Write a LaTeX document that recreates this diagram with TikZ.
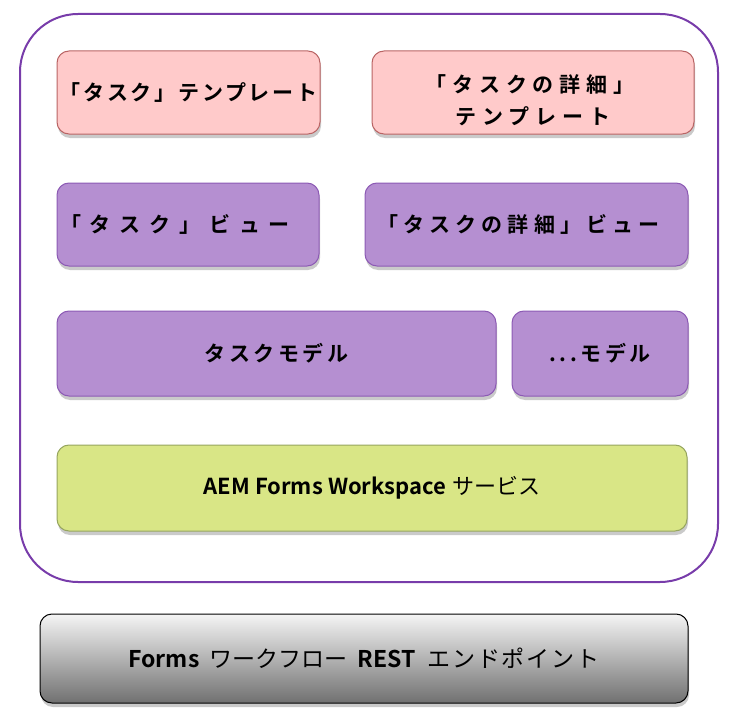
\documentclass[tikz,border=0pt]{standalone}
\usepackage{fontspec}
\setmainfont{Noto Sans CJK JP}[BoldFont=* Bold]
\newfontfamily\jpa{Noto Sans CJK JP}[BoldFont=* Bold,LetterSpace=13]
\newfontfamily\jpb{Noto Sans CJK JP}[BoldFont=* Bold,LetterSpace=28]
\newfontfamily\jpc{Noto Sans CJK JP}[BoldFont=* Bold,LetterSpace=24]
\newfontfamily\jpd{Noto Sans CJK JP}[BoldFont=* Bold,LetterSpace=42]
\newfontfamily\jpe{Noto Sans CJK JP}[BoldFont=* Bold,LetterSpace=17]
\newfontfamily\jpf{Noto Sans CJK JP}[LetterSpace=8]
\usetikzlibrary{shadows}
\definecolor{outerc}{RGB}{120,60,170}
\definecolor{pinkf}{RGB}{255,202,202}
\definecolor{pinkd}{RGB}{185,100,100}
\definecolor{purf}{RGB}{181,143,209}
\definecolor{purd}{RGB}{140,90,180}
\definecolor{grnf}{RGB}{217,230,134}
\definecolor{grnd}{RGB}{150,165,95}
\tikzset{
  box/.style={rounded corners=12pt, line width=1pt, inner sep=0pt, align=center,
    drop shadow={shadow xshift=1pt, shadow yshift=-4pt, opacity=0.35, fill=black!60}},
  pinkbox/.style={box, fill=pinkf, draw=pinkd},
  purbox/.style={box, fill=purf, draw=purd},
  grnbox/.style={box, fill=grnf, draw=grnd, font=\bfseries\fontsize{22}{26}\selectfont},
  restbox/.style={box, top color=black!4, bottom color=black!56, draw=black, line width=1pt,
    font=\bfseries\fontsize{23}{27}\selectfont},
  lbl/.style={inner sep=0pt, align=center},
}
\begin{document}
\begin{tikzpicture}[x=1pt,y=-1pt]
\useasboundingbox (0,0) rectangle (729,725);
\node[draw=outerc, line width=2pt, rounded corners=58pt, minimum width=698pt, minimum height=568pt, inner sep=0pt] (ws) at (369,298) {};
\node[pinkbox, minimum width=263pt, minimum height=83pt, font=\jpa\bfseries\fontsize{21}{29}\selectfont] (t1) at (188.5,92.5) {「タスク」テンプレート};
\node[pinkbox, minimum width=322pt, minimum height=83pt] (t2) at (533,92.5) {};
\node[lbl, font=\jpb\bfseries\fontsize{21}{32}\selectfont] (t2txt) at ([yshift=-8pt]t2.center) {「タスクの詳細」\hspace*{6pt}\\テンプレート};
\node[purbox, minimum width=262pt, minimum height=83pt, font=\jpd\bfseries\fontsize{21}{26}\selectfont] (v1) at (188,224.5) {「タスク」ビュー\hspace*{26pt}};
\node[purbox, minimum width=323pt, minimum height=83pt, font=\jpc\bfseries\fontsize{21}{26}\selectfont] (v2) at (526.5,224.5) {「タスクの詳細」ビュー\hspace*{16pt}};
\node[purbox, minimum width=439pt, minimum height=85pt, font=\jpe\bfseries\fontsize{21}{26}\selectfont] (m1) at (276.5,353.5) {タスクモデル};
\node[purbox, minimum width=176pt, minimum height=85pt, font=\jpe\bfseries\fontsize{21}{26}\selectfont] (m2) at (600,353.5) {...モデル};
\node[grnbox, minimum width=630pt, minimum height=86pt] (s) at (372,488) {AEM Forms Workspace\hspace{6pt}{\mdseries サービス}};
\node[restbox, minimum width=648pt, minimum height=89pt] (r) at (364,658.5) {Forms\hspace*{10pt}{\mdseries ワークフロー}\hspace*{10pt}REST\hspace*{12pt}{\jpf\mdseries エンドポイント}};
\end{tikzpicture}
\end{document}
